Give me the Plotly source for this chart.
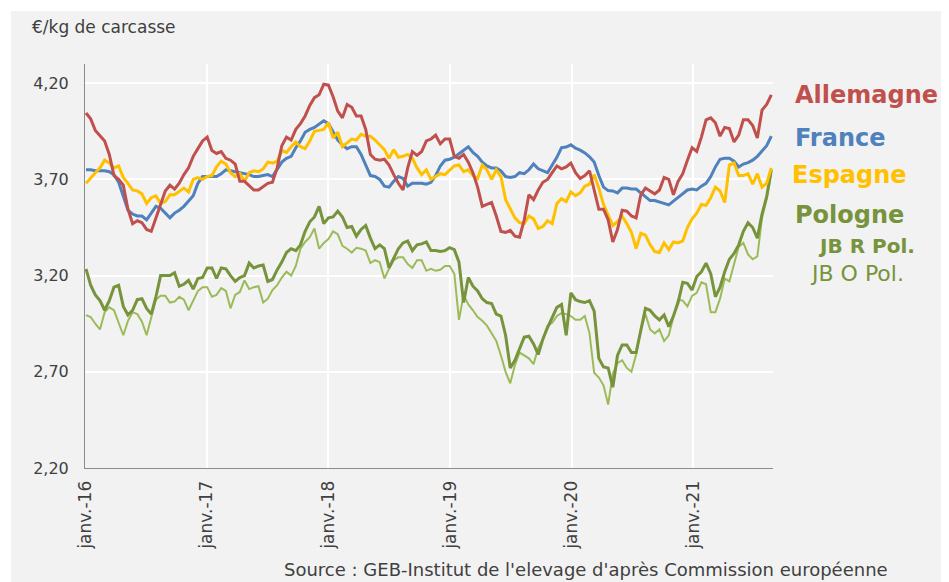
import pandas as pd
import plotly.graph_objects as go

# Bi-weekly observations starting 4 Jan 2016 (148 points)
dates = pd.date_range("2016-01-04", periods=148, freq="14D")

allemagne = [
    4.045, 4.015, 3.955, 3.93, 3.90, 3.83, 3.72, 3.70, 3.67, 3.545, 3.47, 3.485, 3.475, 3.44, 3.43, 3.50,
    3.57, 3.64, 3.67, 3.65, 3.68, 3.725, 3.76, 3.82, 3.86, 3.90, 3.92, 3.85, 3.835, 3.845, 3.81, 3.80,
    3.78, 3.69, 3.69, 3.665, 3.645, 3.645, 3.665, 3.68, 3.685, 3.76, 3.875, 3.92, 3.905, 3.96, 3.99, 4.03,
    4.085, 4.125, 4.14, 4.195, 4.19, 4.13, 4.055, 4.02, 4.09, 4.075, 4.03, 4.03, 3.96, 3.83, 3.805, 3.80,
    3.805, 3.775, 3.725, 3.68, 3.645, 3.76, 3.845, 3.825, 3.845, 3.90, 3.91, 3.93, 3.885, 3.91, 3.91, 3.82,
    3.81, 3.83, 3.79, 3.735, 3.66, 3.56, 3.57, 3.58, 3.51, 3.43, 3.425, 3.435, 3.405, 3.40, 3.49,
    3.62, 3.595, 3.645, 3.685, 3.70, 3.735, 3.77, 3.755, 3.765, 3.785, 3.735, 3.705, 3.72, 3.745, 3.64, 3.545,
    3.545, 3.49, 3.375, 3.44, 3.54, 3.535, 3.51, 3.50, 3.62, 3.655, 3.64, 3.625, 3.645, 3.71, 3.70,
    3.62, 3.69, 3.73, 3.80, 3.865, 3.845, 3.92, 4.01, 4.02, 3.995, 3.925, 3.97, 3.965, 3.895, 3.93, 4.01,
    4.01, 3.98, 3.915, 4.06, 4.09, 4.14,
]

france = [
    3.75, 3.75, 3.745, 3.745, 3.745, 3.74, 3.725, 3.685, 3.61, 3.54, 3.52, 3.51, 3.51, 3.49, 3.525, 3.56,
    3.55, 3.525, 3.50, 3.525, 3.54, 3.56, 3.59, 3.615, 3.68, 3.715, 3.715, 3.715, 3.715, 3.73, 3.75, 3.745,
    3.74, 3.735, 3.73, 3.725, 3.715, 3.715, 3.72, 3.725, 3.715, 3.755, 3.79, 3.81, 3.82, 3.865, 3.90, 3.945,
    3.96, 3.97, 3.99, 4.005, 3.99, 3.945, 3.905, 3.88, 3.86, 3.87, 3.87, 3.83, 3.77, 3.72, 3.715, 3.70,
    3.665, 3.66, 3.69, 3.715, 3.705, 3.665, 3.68, 3.68, 3.68, 3.675, 3.685, 3.72, 3.77, 3.80, 3.805, 3.815,
    3.835, 3.85, 3.87, 3.84, 3.82, 3.79, 3.77, 3.76, 3.76, 3.745, 3.715, 3.71, 3.715, 3.735, 3.73,
    3.75, 3.78, 3.755, 3.745, 3.735, 3.775, 3.815, 3.865, 3.868, 3.88, 3.862, 3.852, 3.838, 3.818, 3.79, 3.72,
    3.66, 3.642, 3.64, 3.63, 3.655, 3.655, 3.65, 3.65, 3.63, 3.607, 3.59, 3.59, 3.582, 3.572, 3.568,
    3.587, 3.605, 3.625, 3.645, 3.65, 3.645, 3.665, 3.68, 3.715, 3.765, 3.805, 3.81, 3.81, 3.795, 3.765, 3.78,
    3.787, 3.80, 3.82, 3.848, 3.875, 3.925,
]

espagne = [
    3.68, 3.71, 3.735, 3.76, 3.80, 3.785, 3.76, 3.77, 3.71, 3.68, 3.645, 3.64, 3.625, 3.575, 3.605, 3.615,
    3.575, 3.585, 3.62, 3.62, 3.64, 3.655, 3.635, 3.70, 3.71, 3.70, 3.715, 3.72, 3.765, 3.795, 3.78, 3.735,
    3.715, 3.73, 3.69, 3.735, 3.745, 3.74, 3.755, 3.79, 3.785, 3.795, 3.85, 3.84, 3.87, 3.895, 3.87, 3.86,
    3.90, 3.95, 3.955, 3.96, 3.995, 3.915, 3.945, 3.87, 3.89, 3.91, 3.905, 3.935, 3.925, 3.925, 3.905, 3.88,
    3.855, 3.81, 3.855, 3.815, 3.82, 3.83, 3.81, 3.76, 3.725, 3.75, 3.70, 3.715, 3.73, 3.725, 3.745, 3.77,
    3.775, 3.74, 3.75, 3.72, 3.705, 3.775, 3.75, 3.70, 3.75, 3.715, 3.595, 3.545, 3.50, 3.475, 3.47,
    3.51, 3.495, 3.445, 3.455, 3.485, 3.47, 3.575, 3.60, 3.585, 3.635, 3.615, 3.63, 3.665, 3.675, 3.725, 3.655,
    3.57, 3.515, 3.46, 3.48, 3.51, 3.47, 3.425, 3.34, 3.42, 3.41, 3.36, 3.325, 3.32, 3.37, 3.335,
    3.375, 3.37, 3.38, 3.45, 3.495, 3.525, 3.57, 3.565, 3.605, 3.66, 3.64, 3.58, 3.775, 3.785, 3.72, 3.72,
    3.73, 3.675, 3.73, 3.66, 3.68, 3.76,
]

jb_r_pol = [
    3.235, 3.15, 3.10, 3.07, 3.02, 3.07, 3.14, 3.15, 3.04, 2.995, 3.02, 3.075, 3.08, 3.03, 3.00, 3.09,
    3.20, 3.20, 3.20, 3.215, 3.145, 3.155, 3.175, 3.13, 3.185, 3.19, 3.24, 3.24, 3.185, 3.24, 3.235, 3.20,
    3.17, 3.19, 3.20, 3.265, 3.24, 3.25, 3.255, 3.17, 3.18, 3.23, 3.27, 3.32, 3.34, 3.33, 3.36, 3.43,
    3.48, 3.505, 3.56, 3.47, 3.50, 3.505, 3.535, 3.505, 3.45, 3.455, 3.405, 3.44, 3.46, 3.395, 3.34, 3.36,
    3.34, 3.24, 3.29, 3.34, 3.37, 3.38, 3.33, 3.36, 3.365, 3.375, 3.33, 3.33, 3.325, 3.33, 3.345, 3.335,
    3.27, 3.06, 3.19, 3.145, 3.12, 3.08, 3.06, 3.055, 3.00, 2.99, 2.89, 2.72, 2.76, 2.825, 2.88,
    2.885, 2.845, 2.79, 2.87, 2.93, 2.98, 3.035, 3.05, 2.89, 3.11, 3.075, 3.065, 3.06, 3.07, 3.015, 2.77,
    2.725, 2.72, 2.62, 2.785, 2.84, 2.84, 2.80, 2.80, 2.925, 3.03, 3.02, 2.99, 2.97, 2.995, 2.935,
    2.99, 3.06, 3.165, 3.16, 3.125, 3.195, 3.22, 3.265, 3.21, 3.09, 3.14, 3.22, 3.285, 3.315, 3.36, 3.43,
    3.475, 3.45, 3.395, 3.52, 3.61, 3.75,
]

jb_o_pol = [
    2.995, 2.985, 2.95, 2.92, 3.01, 3.035, 3.02, 2.95, 2.89, 2.965, 3.01, 3.00, 2.96, 2.89, 2.98, 3.075,
    3.095, 3.095, 3.06, 3.065, 3.09, 3.075, 3.02, 3.07, 3.12, 3.14, 3.14, 3.09, 3.10, 3.135, 3.12, 3.03,
    3.10, 3.115, 3.175, 3.13, 3.14, 3.145, 3.06, 3.08, 3.125, 3.15, 3.19, 3.22, 3.20, 3.25, 3.34, 3.375,
    3.40, 3.445, 3.34, 3.37, 3.39, 3.43, 3.415, 3.355, 3.34, 3.32, 3.345, 3.34, 3.33, 3.265, 3.28, 3.27,
    3.185, 3.235, 3.28, 3.295, 3.295, 3.26, 3.24, 3.28, 3.28, 3.225, 3.235, 3.225, 3.23, 3.25, 3.25, 3.21,
    2.97, 3.10, 3.05, 3.02, 2.985, 2.965, 2.94, 2.90, 2.86, 2.785, 2.70, 2.64, 2.735, 2.80, 2.785,
    2.77, 2.74, 2.825, 2.87, 2.94, 2.955, 2.99, 3.005, 3.00, 2.99, 2.97, 2.97, 2.99, 2.90, 2.695, 2.67,
    2.63, 2.53, 2.69, 2.745, 2.76, 2.72, 2.70, 2.79, 2.92, 3.00, 2.92, 2.90, 2.92, 2.86, 2.89,
    2.985, 3.075, 3.07, 3.04, 3.095, 3.11, 3.165, 3.155, 3.01, 3.01, 3.08, 3.185, 3.17, 3.26, 3.35, 3.37,
    3.31, 3.285, 3.30, 3.50, 3.60, 3.73,
]

year_ticks = ["2016-01-01", "2017-01-01", "2018-01-01", "2019-01-01", "2020-01-01", "2021-01-01"]
year_labels = ["janv.-16", "janv.-17", "janv.-18", "janv.-19", "janv.-20", "janv.-21"]
y_ticks = [2.20, 2.70, 3.20, 3.70, 4.20]

FONT = "DejaVu Sans"
TXT = "#404040"
RED, BLUE, YELLOW, DGREEN, LGREEN = "#c0504d", "#4f81bd", "#ffc000", "#77933c", "#9bbb59"

# The page body adds an 8px margin, so figure coordinates are screen coordinates minus 8.
OFF = 8
W, H = 949 - OFF, 582 - OFF
L, R, T, B = 85 - OFF, 773 - OFF, 64 - OFF, 468 - OFF


def px(xs):
    return (xs - OFF - L) / (R - L)


def py(ys):
    return (B - (ys - OFF)) / (B - T)


fig = go.Figure()
fig.add_trace(go.Scatter(x=dates, y=jb_o_pol, mode="lines", line=dict(color=LGREEN, width=2), name="JB O Pol."))
fig.add_trace(go.Scatter(x=dates, y=jb_r_pol, mode="lines", line=dict(color=DGREEN, width=3), name="JB R Pol."))
fig.add_trace(go.Scatter(x=dates, y=france, mode="lines", line=dict(color=BLUE, width=3), name="France"))
fig.add_trace(go.Scatter(x=dates, y=espagne, mode="lines", line=dict(color=YELLOW, width=3), name="Espagne"))
fig.add_trace(go.Scatter(x=dates, y=allemagne, mode="lines", line=dict(color=RED, width=3), name="Allemagne"))

fig.update_layout(
    width=W, height=H,
    margin=dict(l=L, r=W - R, t=T, b=H - B, pad=0),
    paper_bgcolor="white",
    plot_bgcolor="#f2f2f2",
    showlegend=False,
    separators=", ",
    font=dict(family=FONT, color=TXT),
    xaxis=dict(
        type="date",
        range=["2016-01-01", "2021-08-28"],
        tickvals=year_ticks, ticktext=year_labels,
        tickangle=-90, tickfont=dict(size=17, color=TXT, family=FONT),
        ticklabelstandoff=5,
        showgrid=True, gridcolor="white", gridwidth=2,
        showline=True, linecolor="#8c8c8c", linewidth=1,
        ticks="", zeroline=False,
    ),
    yaxis=dict(
        range=[2.20, 4.30],
        tickvals=y_ticks, tickformat=".2f",
        tickfont=dict(size=16, color=TXT, family=FONT),
        ticklabelstandoff=12,
        showgrid=True, gridcolor="white", gridwidth=2,
        showline=True, linecolor="#8c8c8c", linewidth=1,
        ticks="", zeroline=False,
    ),
    shapes=[dict(
        type="rect", xref="paper", yref="paper",
        x0=px(11), x1=px(960), y0=py(600), y1=py(11),
        fillcolor="#f2f2f2", line=dict(width=0), layer="below",
    )],
)

labels = [
    ("<b>Allemagne</b>", 793, 95, RED, 24),
    ("<b>France</b>", 793, 138, BLUE, 24),
    ("<b>Espagne</b>", 790, 175, YELLOW, 24),
    ("<b>Pologne</b>", 793, 215, DGREEN, 24),
    ("<b>JB R Pol.</b>", 816, 246, DGREEN, 20),
    ("JB O Pol.", 808, 273, DGREEN, 22),
]
for text, xs, ys, col, size in labels:
    fig.add_annotation(text=text, xref="paper", yref="paper", x=px(xs), y=py(ys),
                       xanchor="left", yanchor="middle", showarrow=False,
                       font=dict(size=size, color=col, family=FONT))

fig.add_annotation(text="€/kg de carcasse", xref="paper", yref="paper", x=px(30), y=py(27),
                   xanchor="left", yanchor="middle", showarrow=False,
                   font=dict(size=17, color=TXT, family=FONT))
fig.add_annotation(text="Source : GEB-Institut de l'elevage d'après Commission européenne",
                   xref="paper", yref="paper", x=px(282), y=py(569),
                   xanchor="left", yanchor="middle", showarrow=False,
                   font=dict(size=18, color=TXT, family=FONT))

fig.write_html("out.html")
